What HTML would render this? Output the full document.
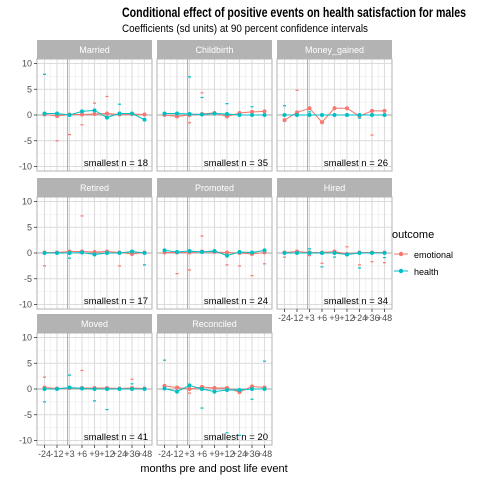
<!DOCTYPE html>
<html><head><meta charset="utf-8">
<style>
body{margin:0;background:#fff;font-family:"Liberation Sans",sans-serif;}
svg{display:block}
</style></head>
<body>
<svg id="chart" width="480" height="480" xmlns="http://www.w3.org/2000/svg" font-family="Liberation Sans, sans-serif">
<rect width="480" height="480" fill="#fff"/>
<text x="122" y="17" font-size="13.5" font-weight="bold" fill="#000" textLength="344" lengthAdjust="spacingAndGlyphs">Conditional effect of positive events on health satisfaction for males</text>
<text x="122" y="32" font-size="11" fill="#000" textLength="246" lengthAdjust="spacingAndGlyphs">Coefficients (sd units) at 90 percent confidence intervals</text>
<text x="214" y="472" font-size="11" text-anchor="middle" fill="#000">months pre and post life event</text>
<g>
<text x="392" y="238" font-size="11" fill="#000">outcome</text>
<g>
<line x1="394" y1="254" x2="408" y2="254" stroke="#F8766D" stroke-width="1"/><circle cx="401" cy="254" r="2.2" fill="#F8766D"/>
<text x="414" y="258" font-size="9" fill="#000">emotional</text></g>
<g>
<line x1="394" y1="271" x2="408" y2="271" stroke="#00BFC4" stroke-width="1"/><circle cx="401" cy="271" r="2.2" fill="#00BFC4"/>
<text x="414" y="275" font-size="9" fill="#000">health</text></g>
</g>
<g id="panels"></g>
</svg>
<script>
const ticks = ["-24","-12","+3","+6","+9","+12","+24","+36","+48"];
const yTicks = [10,5,0,-5,-10];
const panelNames = ["Married","Childbirth","Money_gained","Retired","Promoted","Hired","Moved","Reconciled"];
const smallestN = [18,35,26,17,24,34,41,20];
const emoMarried = [0.1,-0.2,0.1,0.1,0.2,0.3,0.1,0.2,0.1];
const heaMarried = [0.3,0.3,0,0.7,0.9,-0.5,0.3,0.3,-0.9];
const emoChildbirth = [0,-0.3,0,0.2,0.4,-0.3,0.4,0.6,0.7];
const heaChildbirth = [0.3,0.3,0.2,0.1,0.3,0.2,0,0,0];
const emoMoney = [-1.0,0.5,1.3,-1.4,1.3,1.3,-0.2,0.8,0.8];
const heaMoney = [0,0,0,0,0,0,0,0,0];
const emoRetired = [0.1,0.1,0.3,0.3,0.2,0.3,0.1,-0.2,0.1];
const heaRetired = [0,0,0,0.1,-0.3,0,0,0.3,0];
const emoPromoted = [0.1,0.1,0.1,0.3,0.2,0.1,0,-0.2,0.1];
const heaPromoted = [0.5,0.2,0.4,0.2,0.4,-0.5,0.2,0.1,0.5];
const emoHired = [0.1,0.3,0.1,0.1,0.3,-0.2,0.1,0.1,0.1];
const heaHired = [0,0,0,0,0,-0.3,0,0,0];
const emoMoved = [0.3,0.1,0.2,0.2,0.2,0.2,0.1,0.2,0.1];
const heaMoved = [0,0,0.3,0.1,0,0,0,0,0];
const emoReconciled = [0.6,0.3,0,0.4,0.2,0.2,-0.6,0.5,0.3];
const heaReconciled = [0.1,-0.5,0.7,0,-0.5,-0.2,-0.2,0,0];
const emoSeries = [emoMarried,emoChildbirth,emoMoney,emoRetired,emoPromoted,emoHired,emoMoved,emoReconciled];
const heaSeries = [heaMarried,heaChildbirth,heaMoney,heaRetired,heaPromoted,heaHired,heaMoved,heaReconciled];
const emoCI = [
 [[1,-5],[2,-3.8],[3,-1.9],[4,2.3],[5,3.6]],
 [[2,-1.5],[3,4.3]],
 [[1,4.8],[7,-3.9]],
 [[0,-2.5],[3,7.2],[6,-2.5]],
 [[1,-4],[2,-3.3],[3,3.3],[5,-2.3],[6,-2.5],[7,-4.4],[8,-2.1]],
 [[0,-0.8],[2,-0.5],[3,-2],[5,1.2],[6,-2.3],[7,-1.7],[8,-1.9]],
 [[0,2.3],[3,3.6],[7,1.9]],
 [[2,-0.8],[3,0.6]]
];
const heaCI = [
 [[0,7.9],[6,2.1]],
 [[2,7.4],[3,3.4],[5,2.2],[7,1.6]],
 [[0,1.8],[2,0.6],[6,-0.6]],
 [[2,-1.0],[8,-2.3]],
 [],
 [[2,0.8],[3,-2.7],[4,-0.8],[6,-2.9],[8,-0.9]],
 [[0,-2.5],[2,2.7],[4,-2.3],[5,-4],[7,1]],
 [[0,5.6],[3,-3.7],[5,-8.5],[6,-9],[7,-2],[8,5.4]]
];
const colX = [37,157,277];
const rowY = [40,178,314];
const stripH = 19, plotH = 112, W = 115;
const NS = "http://www.w3.org/2000/svg";
const root = document.getElementById('panels');
function mk(tag, attrs, parent){const e=document.createElementNS(NS,tag);for(const k in attrs)e.setAttribute(k,attrs[k]);parent.appendChild(e);return e;}
function xScale(x0,i){return x0 + (i+0.6)*(W/9.2);}
function yS(top,v){return top + plotH/2 - v*5.15;}
panelNames.forEach((name,p)=>{
  const c=p%3, r=Math.floor(p/3);
  const x0=colX[c], sTop=rowY[r], top=sTop+stripH;
  const g=mk('g',{},root);
  
  
  const strip=mk('rect',{x:x0,y:sTop,width:W,height:stripH,fill:'#B3B3B3'},g);
  
  
  const st=mk('text',{x:x0+W/2,y:sTop+13,'font-size':9,'text-anchor':'middle',fill:'#fff'},g);
  st.textContent=name;
  mk('rect',{x:x0,y:top,width:W,height:plotH,fill:'#fff'},g);
  for(let v=-7.5;v<=7.5;v+=5){const y=yS(top,v);mk('line',{x1:x0,x2:x0+W,y1:y,y2:y,stroke:'#EBEBEB','stroke-width':0.6},g);}
  for(let i=0;i<8;i++){const x=(xScale(x0,i)+xScale(x0,i+1))/2;mk('line',{x1:x,x2:x,y1:top,y2:top+plotH,stroke:'#EBEBEB','stroke-width':0.6},g);}
  yTicks.forEach(v=>{const y=yS(top,v);mk('line',{x1:x0,x2:x0+W,y1:y,y2:y,stroke:'#DCDCDC','stroke-width':1.1},g);});
  ticks.forEach((t,i)=>{const x=xScale(x0,i);mk('line',{x1:x,x2:x,y1:top,y2:top+plotH,stroke:'#DCDCDC','stroke-width':1.1},g);});
  const vx=xScale(x0,1.85);
  mk('line',{x1:vx,x2:vx,y1:top,y2:top+plotH,stroke:'#A6A6A6','stroke-width':1},g);
  mk('line',{x1:x0,x2:x0+W,y1:yS(top,0),y2:yS(top,0),stroke:'#A6A6A6','stroke-width':1},g);
  [[emoCI[p],'#F8766D'],[heaCI[p],'#00BFC4']].forEach(([arr,col])=>{arr.forEach(([i,v])=>{const x=xScale(x0,i),y=yS(top,v);
    const t=mk('line',{x1:x-1.5,x2:x+1.5,y1:y,y2:y,stroke:col,'stroke-width':1.2},g);
    
    });});
  [[emoSeries[p],'#F8766D','emotional'],[heaSeries[p],'#00BFC4','health']].forEach(([arr,col,nm])=>{
    const pts=arr.map((v,i)=>xScale(x0,i)+','+yS(top,v)).join(' ');
    const pl=mk('polyline',{points:pts,fill:'none',stroke:col,'stroke-width':1},g);
    
    
    arr.forEach((v,i)=>{const c2=mk('circle',{cx:xScale(x0,i),cy:yS(top,v),r:2,fill:col},g);
      
      });
  });
  mk('rect',{x:x0,y:top,width:W,height:plotH,fill:'none',stroke:'#B3B3B3','stroke-width':1},g);
  const nt=mk('text',{x:x0+W-4,y:top+plotH-5,'font-size':9.5,'text-anchor':'end',fill:'#000'},g);
  nt.textContent='smallest n = '+smallestN[p];
  
  
  if(c===0){yTicks.forEach(v=>{const y=yS(top,v);
    mk('line',{x1:x0-3,x2:x0,y1:y,y2:y,stroke:'#333','stroke-width':0.8},g);
    const tt=mk('text',{x:x0-5,y:y+3,'font-size':9,'text-anchor':'end',fill:'#4D4D4D'},g);tt.textContent=v;
    
    });}
  if(r===2||p===5){ticks.forEach((t,i)=>{const x=xScale(x0,i);
    mk('line',{x1:x,x2:x,y1:top+plotH,y2:top+plotH+3,stroke:'#333','stroke-width':0.8},g);
    const tt=mk('text',{x:x,y:top+plotH+12,'font-size':9,'text-anchor':'middle',fill:'#4D4D4D'},g);tt.textContent=t;
    
    });}
});
</script>
</body></html>
